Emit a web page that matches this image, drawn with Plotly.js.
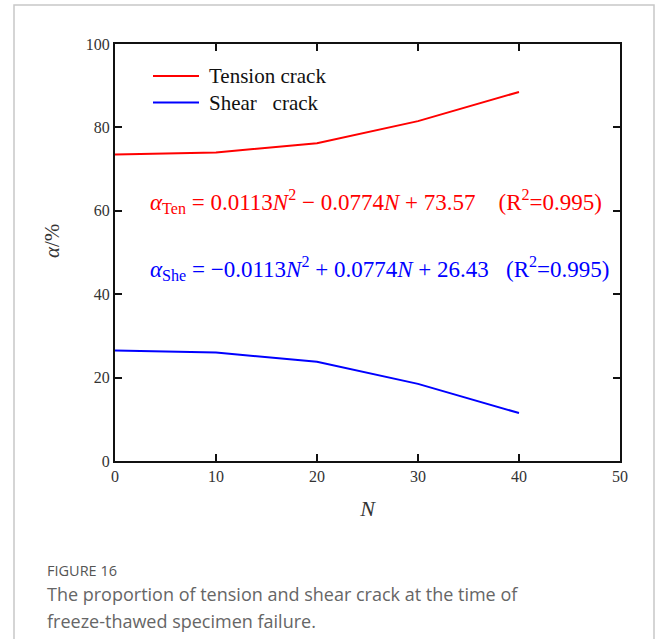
<!DOCTYPE html>
<html>
<head>
<meta charset="utf-8">
<script src="https://cdn.plot.ly/plotly-3.0.1.min.js"></script>
<style>
  html, body { margin: 0; padding: 0; background: #fff; }
  #chart { width: 656px; height: 639px; }
</style>
</head>
<body>
<div id="chart"></div>
<script>
// ---- data ----
const cycles = [0, 10, 20, 30, 40];                 // N (freeze-thaw cycles)
const tensionCrack = [73.5, 74.0, 76.2, 81.5, 88.5]; // α/% tension crack
const shearCrack = [26.5, 26.0, 23.8, 18.5, 11.5];   // α/% shear crack
const seriesNames = ['Tension crack', 'Shear&nbsp;&nbsp;&nbsp;crack'];
const seriesColors = ['#ff0000', '#0000ff'];
const xTicks = [0, 10, 20, 30, 40, 50];
const yTicks = [0, 20, 40, 60, 80, 100];
const eqTension = '<i>α</i><sub>Ten</sub> = 0.0113<i>N</i><sup>2</sup> − 0.0774<i>N</i> + 73.57&nbsp;&nbsp;&nbsp;&nbsp;(R<sup>2</sup>=0.995)';
const eqShear = '<i>α</i><sub>She</sub> = −0.0113<i>N</i><sup>2</sup> + 0.0774<i>N</i> + 26.43&nbsp;&nbsp;&nbsp;(R<sup>2</sup>=0.995)';
const captionTitle = 'FIGURE 16';
const captionLines = ['The proportion of tension and shear crack at the time of', 'freeze-thawed specimen failure.'];

// ---- layout helpers ----
const W = 656, H = 639;
const M = {l: 115, r: 36, t: 44, b: 178};
const PW = W - M.l - M.r, PH = H - M.t - M.b;
const px = x => (x - M.l) / PW;          // pixel -> paper x
const py = y => (H - M.b - y) / PH;      // pixel -> paper y

const serif = 'Liberation Serif, Times New Roman, serif';
const sans = 'Open Sans, Noto Sans, sans-serif';

const traces = [
  {x: cycles, y: tensionCrack, name: seriesNames[0], type: 'scatter', mode: 'lines',
   line: {color: seriesColors[0], width: 2}, showlegend: false},
  {x: cycles, y: shearCrack, name: seriesNames[1], type: 'scatter', mode: 'lines',
   line: {color: seriesColors[1], width: 2}, showlegend: false}
];

const axisCommon = {
  showgrid: false, zeroline: false, showline: true, linecolor: '#111', linewidth: 2,
  mirror: 'ticks', ticks: 'inside', ticklen: 7, tickwidth: 2, tickcolor: '#111',
  tickfont: {family: serif, size: 16, color: '#333'}
};

// legend rows (manual, to match the reference's spacing)
const legendRowsY = [py(76), py(102.5)];
const legendShapes = seriesColors.map((c, i) => ({
  type: 'line', xref: 'paper', yref: 'paper', x0: px(153), x1: px(199),
  y0: legendRowsY[i], y1: legendRowsY[i], line: {color: c, width: 2}
}));
const legendTexts = seriesNames.map((n, i) => ({
  xref: 'paper', yref: 'paper', x: px(207), y: legendRowsY[i], xanchor: 'left', yanchor: 'middle',
  text: n, showarrow: false, font: {family: serif, size: 21, color: '#111'}
}));

const layout = {
  width: W, height: H,
  margin: M,
  paper_bgcolor: '#fff', plot_bgcolor: '#fff',
  showlegend: false,
  xaxis: Object.assign({}, axisCommon, {
    range: [0, 50], tickvals: xTicks, ticktext: xTicks.map(String),
    title: {text: '<i>N</i>', font: {family: serif, size: 22, color: '#333'}, standoff: 16}
  }),
  yaxis: Object.assign({}, axisCommon, {
    range: [0, 100], tickvals: yTicks, ticktext: yTicks.map(String)
  }),
  annotations: [
    {xref: 'paper', yref: 'paper', x: px(52), y: py(241), xanchor: 'center', yanchor: 'middle',
     textangle: -90, text: '<i>α</i>/%', showarrow: false,
     font: {family: serif, size: 21, color: '#333'}},
    {xref: 'paper', yref: 'paper', x: px(148), y: py(201), xanchor: 'left', yanchor: 'middle',
     text: eqTension, showarrow: false, font: {family: serif, size: 23, color: seriesColors[0]}},
    {xref: 'paper', yref: 'paper', x: px(148), y: py(268), xanchor: 'left', yanchor: 'middle',
     text: eqShear, showarrow: false, font: {family: serif, size: 23, color: seriesColors[1]}},
    {xref: 'paper', yref: 'paper', x: px(45), y: py(570), xanchor: 'left', yanchor: 'middle',
     text: captionTitle, showarrow: false, font: {family: sans, size: 14.5, color: '#555'}},
    {xref: 'paper', yref: 'paper', x: px(45), y: py(594), xanchor: 'left', yanchor: 'middle',
     text: captionLines[0], showarrow: false, font: {family: sans, size: 18, color: '#666'}},
    {xref: 'paper', yref: 'paper', x: px(45), y: py(621), xanchor: 'left', yanchor: 'middle',
     text: captionLines[1], showarrow: false, font: {family: sans, size: 18, color: '#666'}}
  ].concat(legendTexts),
  shapes: [
    {type: 'rect', xref: 'paper', yref: 'paper', x0: px(14), x1: px(654), y0: py(660), y1: py(5),
     line: {color: '#c8c8c8', width: 1.5}, fillcolor: 'rgba(0,0,0,0)', layer: 'below'}
  ].concat(legendShapes)
};

Plotly.newPlot('chart', traces, layout, {displayModeBar: false, responsive: false});
</script>
</body>
</html>
